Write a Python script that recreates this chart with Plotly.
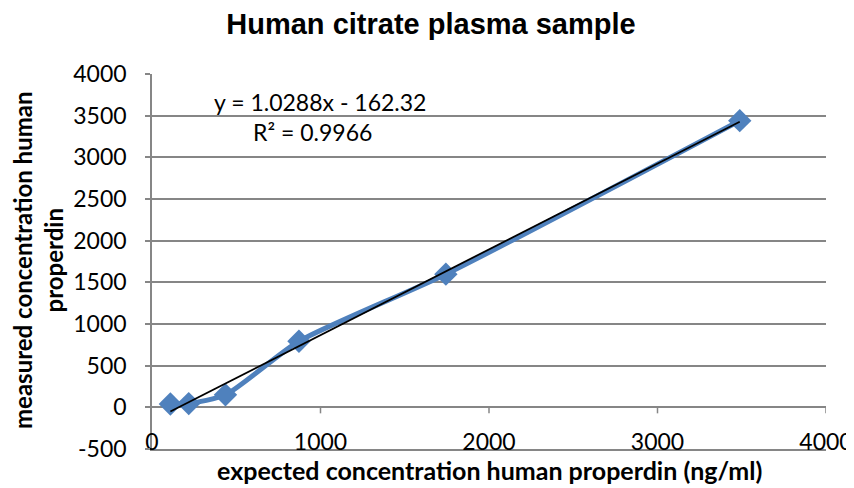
import plotly.graph_objects as go

# Data
expected = [109, 218, 436, 872, 1744, 3488]
measured = [40, 45, 150, 793, 1598, 3440]
slope = 1.0288
intercept = -162.32
r2 = 0.9966
x_ticks = [0, 1000, 2000, 3000, 4000]
y_ticks = [-500, 0, 500, 1000, 1500, 2000, 2500, 3000, 3500, 4000]

trend_x = [min(expected), max(expected)]
trend_y = [slope * v + intercept for v in trend_x]

blue = "#4F81BD"
grid = "#868686"
FONT = "Lato, Carlito, Calibri, sans-serif"
tickfont = dict(family=FONT, size=23, color="black")

# page has an 8px body margin; work in figure pixels
OFF = 8
W, H = 854 - OFF, 488 - OFF
L, R, T, B = 152 - OFF, 826 - OFF, 74 - OFF, 449 - OFF
PW, PH = R - L, B - T


def px(x):
    return (x - OFF - L) / PW


def py(y):
    return (B - (y - OFF)) / PH


fig = go.Figure()
fig.add_trace(go.Scatter(
    x=expected, y=measured, mode="lines+markers",
    line=dict(color=blue, width=5, shape="spline", smoothing=0.6),
    marker=dict(symbol="diamond", size=18, color=blue),
    showlegend=False, hoverinfo="skip"))
fig.add_trace(go.Scatter(
    x=trend_x, y=trend_y, mode="lines",
    line=dict(color="black", width=1.8),
    showlegend=False, hoverinfo="skip"))

shapes = [dict(type="line", xref="x", yref="y", x0=0, x1=4000, y0=0, y1=0,
               line=dict(color=grid, width=1.5), layer="below")]
for t in x_ticks[1:]:
    shapes.append(dict(type="line", xref="x", yref="y", x0=t, x1=t,
                       ysizemode="pixel", yanchor=0, y0=0, y1=-6,
                       line=dict(color=grid, width=1.5), layer="below"))
fig.update_layout(shapes=shapes)

fig.add_annotation(xref="paper", yref="paper", x=px(320), y=py(102),
                   text=f"y = {slope}x - {abs(intercept)}", showarrow=False,
                   font=tickfont, xanchor="center", yanchor="middle")
fig.add_annotation(xref="paper", yref="paper", x=px(312), y=py(132),
                   text=f"R² = {r2}", showarrow=False,
                   font=tickfont, xanchor="center", yanchor="middle")
fig.add_annotation(xref="paper", yref="paper", x=px(38), y=py(260),
                   text="<b>measured concentration human<br>properdin</b>", textangle=-90,
                   showarrow=False, font=dict(family=FONT, size=24, color="black"),
                   xanchor="center", yanchor="middle")
fig.add_annotation(xref="paper", yref="paper", x=px(489), y=py(470),
                   text="<b>expected concentration human properdin (ng/ml)</b>",
                   showarrow=False, font=dict(family=FONT, size=25, color="black"),
                   xanchor="center", yanchor="middle")

fig.update_layout(
    width=W, height=H,
    margin=dict(l=L, r=W - R, t=T, b=H - B, autoexpand=False),
    paper_bgcolor="white", plot_bgcolor="white",
    title=dict(text="<b>Human citrate plasma sample</b>", x=0.5, xanchor="center",
               y=1 - (24 - OFF) / H, yanchor="middle",
               font=dict(family="Liberation Sans, Arial, sans-serif", size=29, color="black")),
    xaxis=dict(range=[0, 4000], tickvals=x_ticks, ticktext=[str(v) for v in x_ticks],
               showgrid=False, zeroline=False, showline=True, linecolor=grid, linewidth=1.5,
               ticks="", tickfont=tickfont, ticklabelstandoff=-28, automargin=False),
    yaxis=dict(range=[-500, 4000], tickvals=y_ticks, ticktext=[str(v) for v in y_ticks],
               showgrid=True, gridcolor=grid, gridwidth=1.5, zeroline=False,
               showline=True, linecolor=grid, linewidth=1.5,
               ticks="outside", ticklen=5, tickcolor=grid, tickwidth=1.5,
               tickfont=tickfont, ticklabelstandoff=14, automargin=False),
)

fig.write_html("out.html")
